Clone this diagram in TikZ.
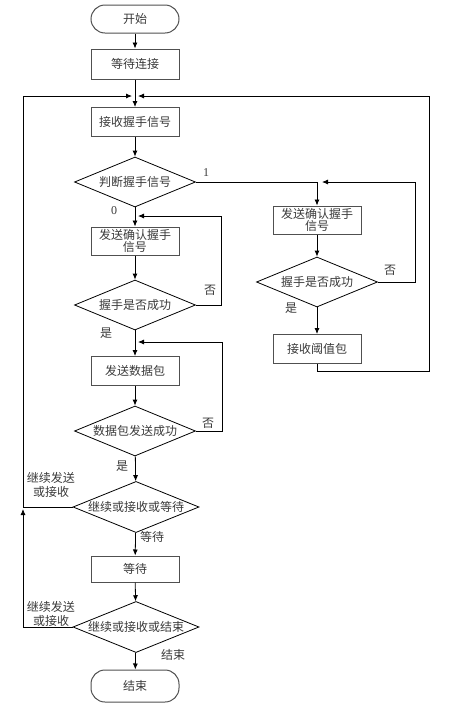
\documentclass[tikz,border=0pt]{standalone}
\usepackage{fontspec}
\setmainfont{Liberation Serif}
\newfontfamily\cjk{Noto Sans CJK SC}
\usepackage{xcolor}
\usepackage{tikz}
\usetikzlibrary{shapes.geometric,arrows.meta,calc}
\definecolor{boxgray}{HTML}{505050}
\definecolor{txtgray}{HTML}{3A3A3A}
\tikzstyle{tsText} = [
    text=txtgray,
    font=\cjk\fontsize{12}{13.5}\selectfont
]
\tikzstyle{tsProcess} = [
    rectangle,
    tsText,
    align=center,
    draw=boxgray,
    line width=1pt,
    minimum width=88pt,
    inner sep=1pt
]
\tikzstyle{tsTerminal} = [
    tsProcess,
    rounded corners=14pt
]
\tikzstyle{tsDecision} = [
    diamond,
    tsText,
    aspect=2.4,
    draw=black,
    line width=0.8pt,
    inner sep=0pt,
    minimum width=121pt,
    minimum height=50pt
]
\tikzstyle{tsLabel} = [
    tsText,
    inner sep=0pt,
    align=center
]
\tikzstyle{tsArrow} = [
    line width=0.8pt,
    -{Latex[length=6pt,width=5pt]}
]

\begin{document}
\begin{tikzpicture}[x=1pt, y=-1pt]

        \useasboundingbox (0,0) rectangle (459,705);

        % Main column
        \node[tsTerminal, minimum height=28pt] (start) at (135,19) {开始};
        \node[tsProcess, minimum height=30pt] (wait) at (135,64) {等待连接};
        \node[tsProcess, minimum height=29pt] (recv) at (135,122) {接收握手信号};
        \node[tsDecision] (judge) at (135,182) {判断握手信号};
        \node[tsProcess, minimum height=28pt] (sendL) at (135,241) {发送确认握手\\[-2pt]信号};
        \node[tsDecision] (hsL) at (135,305) {握手是否成功};
        \node[tsProcess, minimum height=29pt] (data) at (135,371) {发送数据包};
        \node[tsDecision] (dok) at (135,431) {数据包发送成功};
        \node[tsDecision, minimum width=126pt] (cont1) at (136,507) {继续或接收或等待};
        \node[tsProcess, minimum height=26pt] (waitB) at (135,569) {等待};
        \node[tsDecision, minimum width=126pt] (cont2) at (136,627) {继续或接收或结束};
        \node[tsTerminal, minimum height=32pt] (finish) at (135,686) {结束};

        % Right column
        \node[tsProcess, minimum height=28pt] (sendR) at (317,220) {发送确认握手\\[-2pt]信号};
        \node[tsDecision] (hsR) at (317,282) {握手是否成功};
        \node[tsProcess, minimum height=29pt] (thr) at (317,349) {接收阈值包};

        % Junction points
        \coordinate (topL) at (132,96);
        \coordinate (topR) at (138,96);
        \coordinate (jR) at (317,182);
        \coordinate (jL) at (23,507);

        % Straight arrows
        \draw[tsArrow] (start) -- (wait);
        \draw[tsArrow] (wait) -- (recv);
        \draw[tsArrow] (recv) -- (judge);
        \draw[tsArrow] (judge) -- (sendL);
        \draw[tsArrow] (sendL) -- (hsL);
        \draw[tsArrow] (hsL) -- (data);
        \draw[tsArrow] (data) -- (dok);
        \draw[tsArrow] (dok) -- (cont1);
        \draw[tsArrow] (cont1) -- (waitB);
        \draw[tsArrow] (waitB) -- (cont2);
        \draw[tsArrow] (cont2) -- (finish);
        \draw[tsArrow] (sendR) -- (hsR);
        \draw[tsArrow] (hsR) -- (thr);

        % Branch to the right column
        \draw[tsArrow] (judge.east) -- (jR) -- (sendR.north);

        % Retry loops
        \draw[tsArrow] (hsL.east) -- (221,305) -- (221,216) -- (138,216);
        \draw[tsArrow] (dok.east) -- (222,431) -- (222,342) -- (138,342);
        \draw[tsArrow] (hsR.east) -- (415,282) -- (415,182) -- ($(jR)+(5,0)$);

        % Back to receiving
        \draw[tsArrow] (thr.south) -- (317,371) -- (429,371) -- (429,96) -- (topR);
        \draw[tsArrow] (cont1.west) -- (jL) -- (23,96) -- (topL);
        \draw[tsArrow] (cont2.west) -- (23,627) -- ($(jL)+(0,2)$);

        % Branch labels
        \node[tsLabel, font=\fontsize{12}{13}\selectfont] at (206,173) {1};
        \node[tsLabel, font=\fontsize{12}{13}\selectfont] at (114,211) {0};
        \node[tsLabel] at (210,290) {否};
        \node[tsLabel] at (106,333) {是};
        \node[tsLabel] at (208,423) {否};
        \node[tsLabel] at (122,466) {是};
        \node[tsLabel] at (390,270) {否};
        \node[tsLabel] at (291,308) {是};
        \node[tsLabel] at (51,485) {继续发送\\或接收};
        \node[tsLabel] at (152,537) {等待};
        \node[tsLabel] at (51,614) {继续发送\\或接收};
        \node[tsLabel] at (173,655) {结束};

\end{tikzpicture}
\end{document}
